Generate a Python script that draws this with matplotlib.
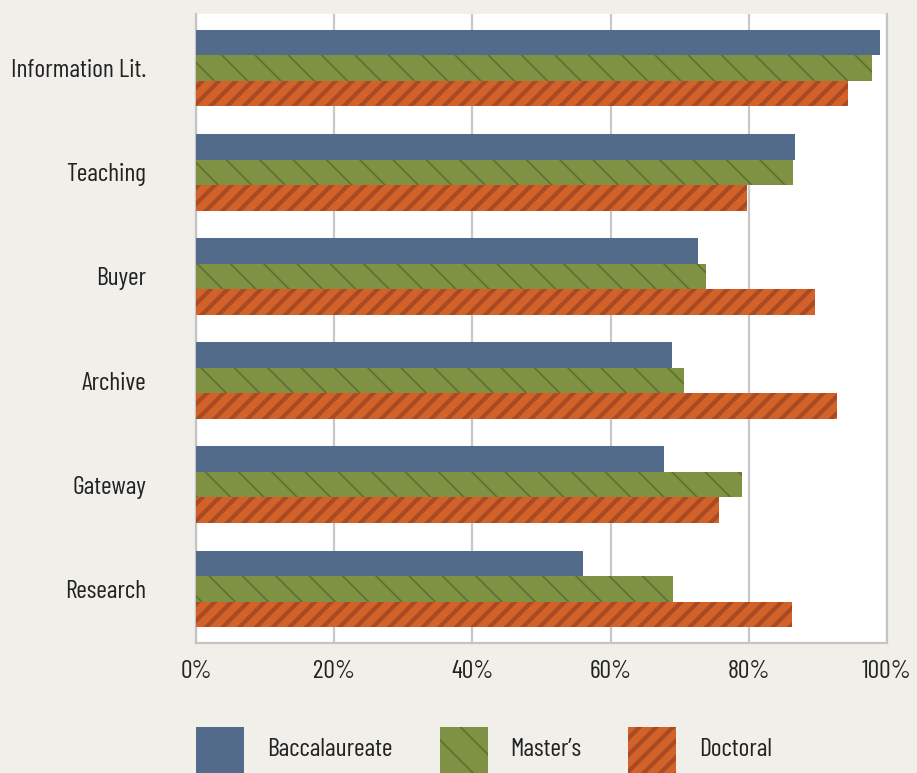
import matplotlib
matplotlib.use("Agg")
import matplotlib.pyplot as plt
from matplotlib.patches import Rectangle
import numpy as np

categories = ["Information Lit.", "Teaching", "Buyer", "Archive", "Gateway", "Research"]
series_names = ["Baccalaureate", "Master\u2019s", "Doctoral"]
baccalaureate = [99.0, 86.7, 72.6, 68.9, 67.7, 56.0]
masters = [97.9, 86.4, 73.8, 70.6, 79.0, 69.0]
doctoral = [94.4, 79.7, 89.6, 92.8, 75.7, 86.3]
xticks = [0, 20, 40, 60, 80, 100]
xtick_labels = ["0%", "20%", "40%", "60%", "80%", "100%"]

plt.rcParams["font.family"] = ["Barlow Condensed", "DejaVu Sans"]

bg = "#f0efe9"
blue = "#526b8a"
green = "#7f9243"
green_h = "#5e7030"
orange = "#d2622a"
orange_h = "#a94a22"
txt = "#222222"
fs = 18.5

fig = plt.figure(figsize=(9.17, 7.73), dpi=100, facecolor=bg)
ax = fig.add_axes([196/917, 1-643/773, (887-196)/917, (643-14)/773])
ax.set_facecolor("white")

y = np.arange(len(categories))
h = 0.245
ax.barh(y - h, baccalaureate, height=h, color=blue, linewidth=0, zorder=3)
bm = ax.barh(y, masters, height=h, color=green, edgecolor=green_h, linewidth=0, hatch="\\", zorder=3)
bd = ax.barh(y + h, doctoral, height=h, color=orange, edgecolor=orange_h, linewidth=0, hatch="//", zorder=3)
for p in bm:
    p.set_hatch_linewidth(1.2)
for p in bd:
    p.set_hatch_linewidth(3.0)

ax.set_xlim(0, 100)
ax.set_ylim(len(categories) - 0.48, -0.52)
ax.set_yticks(y)
ax.set_yticklabels(categories)
ax.set_xticks(xticks)
ax.set_xticklabels(xtick_labels)
ax.tick_params(axis="y", length=0, pad=36, labelsize=fs, labelcolor=txt)
ax.tick_params(axis="x", length=0, pad=12, labelsize=fs, labelcolor=txt)
ax.grid(axis="x", color="#c8c8c8", linewidth=1.6, zorder=0)
ax.grid(axis="y", visible=False)
for s in ax.spines.values():
    s.set_color("#c4c4c4")
    s.set_linewidth(1.6)
ax.spines["top"].set_visible(False)

# legend
leg_items = [
    (196, 267, blue, None, None, 0),
    (440, 510, green, green_h, "\\", 1.2),
    (628, 699, orange, orange_h, "//", 3.0),
]
for (px, tx, fc, ec, ht, hlw), name in zip(leg_items, series_names):
    r = Rectangle((px/917, 0), 48/917, (773-727)/773, transform=fig.transFigure,
                  facecolor=fc, edgecolor=ec if ec else fc, linewidth=0, hatch=ht)
    if ht:
        r.set_hatch_linewidth(hlw)
    fig.add_artist(r)
    fig.text(tx/917, 1-750/773, name, fontsize=fs, color=txt, va="center", ha="left")

fig.savefig("out.png", dpi=100, facecolor=bg)
